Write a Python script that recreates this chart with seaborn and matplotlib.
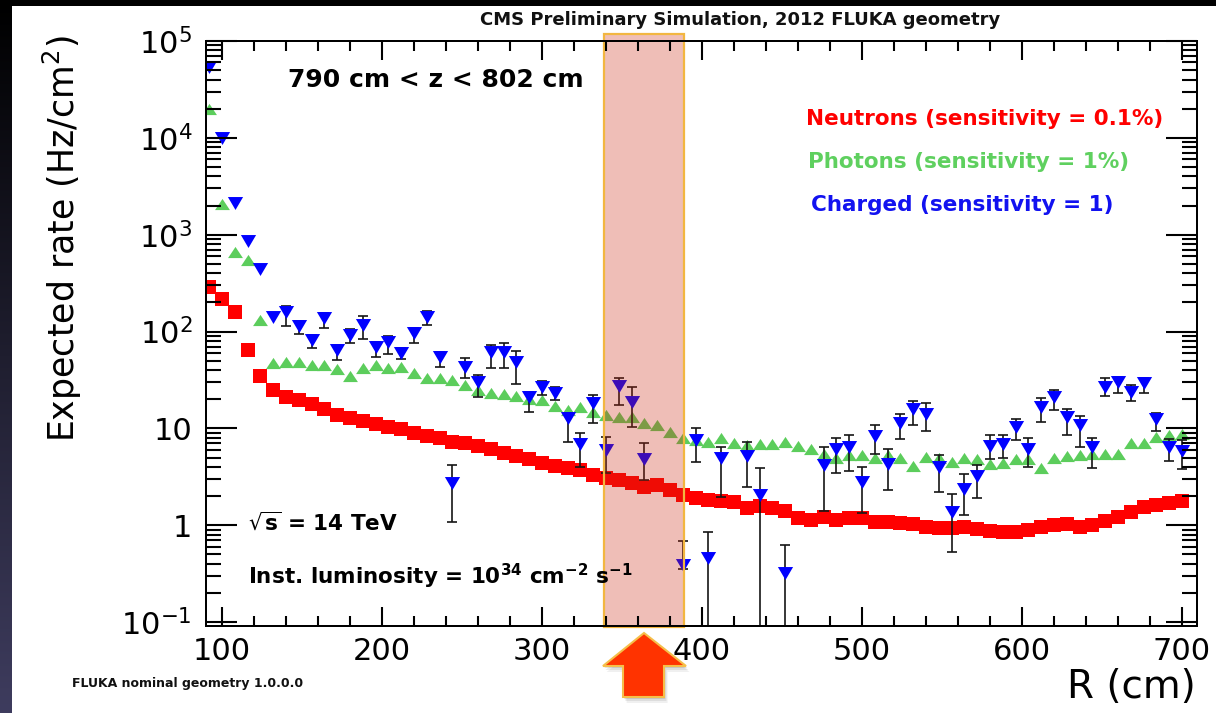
import numpy as np
import pandas as pd
import matplotlib
matplotlib.use("Agg")
import matplotlib.pyplot as plt
import matplotlib.transforms as mtransforms
from matplotlib.patches import Rectangle, Polygon
from matplotlib.colors import LinearSegmentedColormap
from matplotlib.ticker import FixedLocator, MultipleLocator, LogLocator, NullFormatter
import seaborn as sns

# ---------------------------------------------------------------- data
R_cm = [92, 100, 108, 116, 124, 132, 140, 148, 156, 164, 172, 180, 188, 196,
        204, 212, 220, 228, 236, 244, 252, 260, 268, 276, 284, 292, 300, 308,
        316, 324, 332, 340, 348, 356, 364, 372, 380, 388, 396, 404, 412, 420,
        428, 436, 444, 452, 460, 468, 476, 484, 492, 500, 508, 516, 524, 532,
        540, 548, 556, 564, 572, 580, 588, 596, 604, 612, 620, 628, 636, 644,
        652, 660, 668, 676, 684, 692, 700]

neutrons = [286, 217, 158, 64.5, 34.8, 24.9, 21.0, 19.7, 17.8, 15.9, 13.8, 12.7,
            11.9, 11.0, 10.4, 9.8, 9.0, 8.4, 8.0, 7.3, 7.0, 6.6, 6.1, 5.6, 5.2,
            4.8, 4.4, 4.1, 3.9, 3.7, 3.3, 3.05, 2.9, 2.7, 2.5, 2.6, 2.3, 2.05,
            1.9, 1.82, 1.78, 1.72, 1.5, 1.6, 1.51, 1.40, 1.18, 1.13, 1.23, 1.13,
            1.18, 1.18, 1.09, 1.09, 1.05, 1.03, 0.97, 0.93, 0.94, 0.96, 0.91,
            0.87, 0.86, 0.86, 0.90, 0.96, 1.0, 1.04, 0.97, 1.0, 1.12, 1.22,
            1.37, 1.54, 1.62, 1.69, 1.76]

photons = [19700, 2076, 663, 548, 131, 47.7, 48.9, 48.9, 45, 45, 40.8, 34.8,
           41.8, 45, 42.4, 43.4, 37.6, 32.9, 32.9, 31.6, 28.1, 24.9, 23.4, 22.7,
           21.6, 20.0, 19.7, 17.1, 15.5, 16.8, 14.6, 13.8, 13.2, 13.2, 11.5,
           10.8, 9.25, 7.9, 7.6, 7.3, 7.9, 7.0, 6.75, 6.86, 6.86, 7.3, 6.6, 6.1,
           5.45, 5.0, 5.3, 5.3, 4.9, 5.3, 5.0, 4.1, 5.1, 4.9, 4.45, 5.0, 4.8,
           4.3, 4.4, 4.8, 4.8, 3.9, 5.0, 5.2, 5.3, 5.5, 5.5, 5.5, 7.1, 7.1,
           8.1, 8.6, 8.8]

nan = float("nan")
charged = [54300, 9900, 2110, 867, 440, 140, 160, 114, 82, 137, 64.5, 92, 117,
           69, 78.7, 59.7, 97.5, 142.6, 55, 2.71, 43.4, 30.4, 62, 62, 48.9,
           21.3, 27, 23.4, 12.7, 6.86, 18.2, 6.0, 27.4, 18.9, 4.8, nan, nan,
           0.39, 7.6, 0.46, 5.0, nan, 5.2, 2.05, nan, 0.32, nan, nan, 4.2, 6.1,
           6.4, 2.8, 8.4, 4.3, 11.5, 15.8, 14.1, 4.03, 1.38, 2.35, 3.2, 6.6,
           6.9, 10.4, 6.2, 16.8, 21, 13.2, 10.8, 6.4, 27, 30.4, 24, 29.2, 12.4,
           6.5, 5.9]
# lower / upper ends of the charged-particle error bars
charged_low = [nan, nan, nan, nan, nan, nan, 113, 94, 67, 108, 51, 76, 83, 55,
               58.5, 52, 76, 117, 43, 1.09, 33, 21, 42, 42, 28.7, 14.6, 22,
               19.7, 7.3, 4.0, 11.3, 3.45, 17.5, 10.3, 2.9, nan, nan, 0.35,
               4.5, 0.01, 1.97, nan, 2.5, 0.01, nan, 0.01, nan, nan, 1.41, 3.5,
               3.66, 1.33, 5.5, 2.3, 7.7, 10.8, 9.5, 2.2, 0.53, 1.28, 1.9, 4.8,
               4.9, 7.6, 4.0, 11.7, 15.5, 8.55, 6.4, 3.9, 21.6, 23.4, 19.3,
               23.4, 9.3, 4.6, 3.8]
charged_high = [nan, nan, nan, nan, nan, nan, 182, 128, 92, 154, 72, 106, 145,
                78, 90, 67, 110, 163, 62, 4.2, 52.8, 35.5, 72, 75.5, 63, 24,
                31, 26.5, 14.5, 9.0, 22, 8.2, 33, 26.6, 7.1, nan, nan, 0.68,
                10.0, 0.86, 6.5, nan, 7.3, 3.9, nan, 0.63, nan, nan, 6.4, 7.9,
                8.55, 4.0, 10.8, 6.2, 14.1, 19.3, 18.2, 5.3, 2.1, 3.4, 4.2,
                8.55, 8.55, 12.4, 7.9, 20.4, 25, 16, 13.5, 7.9, 33, 34.2, 28,
                33, 14.5, 7.7, 7.6]

x_ticks = [100, 200, 300, 400, 500, 600, 700]
x_tick_labels = ["100", "200", "300", "400", "500", "600", "700"]
y_ticks = [0.1, 1, 10, 100, 1e3, 1e4, 1e5]
y_tick_labels = ["$10^{-1}$", "1", "10", "$10^{2}$", "$10^{3}$", "$10^{4}$", "$10^{5}$"]

# highlighted radial window
band_lo, band_hi = 339, 389

# ---------------------------------------------------------------- style
sns.set_theme(style="ticks")
plt.rcParams.update({
    "font.family": ["DejaVu Sans"],
    "mathtext.fontset": "dejavusans",
    "axes.edgecolor": "black",
    "axes.linewidth": 1.4,
})

W, H = 1216, 713
XLIM = (90, 709.4)
YLIM = (10 ** -1.04, 1e5)
fig = plt.figure(figsize=(W / 100, H / 100), dpi=100, facecolor="white")


def fx(x):
    return x / W


def fy(y):
    return 1 - y / H


# slide frame: dark gradient strip on the left, black strip on top
strip = fig.add_axes([0, 0, 12 / W, 1])
grad = np.linspace(0, 1, 256)[:, None]
strip.imshow(grad, aspect="auto", origin="upper", extent=[0, 1, 0, 1],
             cmap=LinearSegmentedColormap.from_list("slide", ["#000000", "#3e3c5e"]))
strip.axis("off")
fig.add_artist(Rectangle((0, fy(6)), 1, 6 / H, transform=fig.transFigure,
                         facecolor="black", edgecolor="none"))

rect = [fx(206), fy(626), 991 / W, 585 / H]
ax = fig.add_axes(rect)
ax.set_facecolor("white")
ax.set_yscale("log")

df = pd.DataFrame({"R": R_cm, "Neutrons": neutrons, "Photons": photons,
                   "Charged": charged})

red = "#ff0000"
green = "#5ccd5c"
blue = "#0000ff"

tri_up = [(0, 0.75), (-1, -0.75), (1, -0.75)]
tri_down = [(0, -0.85), (-1, 0.85), (1, 0.85)]

sns.scatterplot(data=df, x="R", y="Neutrons", marker="s", s=100, color=red,
                linewidth=0, ax=ax, zorder=3)
sns.scatterplot(data=df, x="R", y="Photons", marker=tri_up, s=115, color=green,
                linewidth=0, ax=ax, zorder=4)

ch = np.array(charged, dtype=float)
lo = np.array(charged_low, dtype=float)
hi = np.array(charged_high, dtype=float)
rr = np.array(R_cm, dtype=float)
m = ~np.isnan(lo)
ax.errorbar(rr[m], ch[m], yerr=[ch[m] - lo[m], hi[m] - ch[m]], fmt="none",
            ecolor="#151515", elinewidth=1.2, capsize=3.6, capthick=1.2,
            zorder=5)
sns.scatterplot(data=df, x="R", y="Charged", marker=tri_down, s=120, color=blue,
                linewidth=0, ax=ax, zorder=6)

ax.set_xlabel("")
ax.set_ylabel("")
ax.set_xlim(*XLIM)
ax.set_ylim(*YLIM)

# tick labels on the data axes
ax.xaxis.set_major_locator(FixedLocator(x_ticks))
ax.set_xticklabels(x_tick_labels)
ax.yaxis.set_major_locator(FixedLocator(y_ticks))
ax.yaxis.set_minor_formatter(NullFormatter())
ax.set_yticklabels(y_tick_labels)
ax.tick_params(which="both", length=0, labelcolor="black")
ax.tick_params(axis="x", labelsize=22, pad=8)
ax.tick_params(axis="y", labelsize=22, pad=10)
ax.tick_params(axis="y", which="minor", length=0)

# transparent overlay carrying the frame and inward ticks on all four sides
frame = fig.add_axes(rect)
frame.patch.set_visible(False)
frame.set_zorder(ax.get_zorder() + 1)
frame.set_yscale("log")
frame.set_xlim(*XLIM)
frame.set_ylim(*YLIM)
frame.xaxis.set_major_locator(FixedLocator(x_ticks))
frame.xaxis.set_minor_locator(MultipleLocator(20))
frame.yaxis.set_major_locator(LogLocator(base=10, numticks=20))
frame.yaxis.set_minor_locator(LogLocator(base=10, subs=np.arange(2, 10), numticks=100))
frame.yaxis.set_minor_formatter(NullFormatter())
frame.tick_params(which="both", direction="in", bottom=True, top=True,
                  left=True, right=True, color="black", width=1.5,
                  labelbottom=False, labelleft=False)
frame.tick_params(axis="x", which="major", length=13.7)
frame.tick_params(axis="x", which="minor", length=7)
frame.tick_params(axis="y", which="major", length=22)
frame.tick_params(axis="y", which="minor", length=11)

# highlighted window drawn over the data
trans = mtransforms.blended_transform_factory(ax.transData, ax.transAxes)
ax.add_patch(Rectangle((band_lo, -0.002), band_hi - band_lo, 1.014,
                       transform=trans, facecolor=(202 / 255, 42 / 255, 18 / 255, 0.3),
                       edgecolor="none", clip_on=False, zorder=8))
ax.add_patch(Rectangle((band_lo, -0.002), band_hi - band_lo, 1.014,
                       transform=trans, fill=False, edgecolor="#f2b640",
                       linewidth=1.6, clip_on=False, zorder=9))

# arrow pointing at the window
arrow_px = [(644, 633), (686, 666), (664, 666), (664, 697), (623, 697),
            (623, 666), (603, 666)]
for k, a in enumerate([0.10, 0.08, 0.06]):
    off = 2 + 2 * k
    fig.add_artist(Polygon([(fx(x + off * 0.6), fy(y + off)) for x, y in arrow_px],
                           closed=True, transform=fig.transFigure,
                           facecolor="black", edgecolor="none", alpha=a))
fig.add_artist(Polygon([(fx(x), fy(y)) for x, y in arrow_px], closed=True,
                       transform=fig.transFigure, facecolor="#ff3300",
                       edgecolor="#f5bf4a", linewidth=1.5))

# texts
fig.text(fx(740), fy(25), "CMS Preliminary Simulation, 2012 FLUKA geometry",
         ha="center", va="baseline", fontsize=13, fontweight="bold", color="#111111")
fig.text(fx(288), fy(87), "790 cm < z < 802 cm", ha="left", va="baseline",
         fontsize=18, fontweight="bold", color="black")
fig.text(fx(806), fy(125), "Neutrons (sensitivity = 0.1%)", ha="left",
         va="baseline", fontsize=15.5, fontweight="bold", color=red)
fig.text(fx(808), fy(168), "Photons (sensitivity = 1%)", ha="left",
         va="baseline", fontsize=15.5, fontweight="bold", color="#5fd05f")
fig.text(fx(811), fy(211), "Charged (sensitivity = 1)", ha="left",
         va="baseline", fontsize=15.5, fontweight="bold", color="#1212f0")
fig.text(fx(248), fy(530), r"$\sqrt{\mathbf{s}}$ = 14 TeV", ha="left",
         va="baseline", fontsize=15.5, fontweight="bold", color="black")
fig.text(fx(248), fy(584),
         r"Inst. luminosity = 10$^{\mathbf{34}}$ cm$^{\mathbf{-2}}$ s$^{\mathbf{-1}}$",
         ha="left", va="baseline", fontsize=15.5, fontweight="bold", color="black")
fig.text(fx(72), fy(687), "FLUKA nominal geometry 1.0.0.0", ha="left",
         va="baseline", fontsize=9, fontweight="bold", color="#111111")
fig.text(fx(1196), fy(698), "R (cm)", ha="right", va="baseline", fontsize=28,
         color="black")
fig.text(fx(62), fy(35), "Expected rate (Hz/cm$^{2}$)", rotation=90,
         ha="center", va="top", fontsize=25, color="black")

fig.savefig("out.png", dpi=100, facecolor="white")
